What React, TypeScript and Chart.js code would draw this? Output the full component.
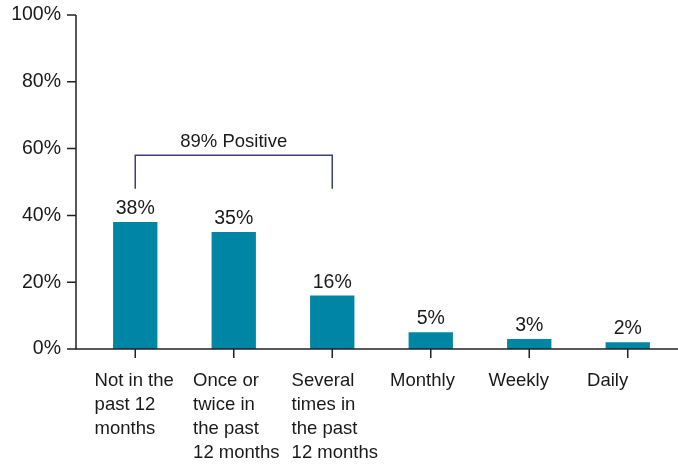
import React, { useEffect, useRef } from "react";
import { Chart, registerables } from "chart.js";

Chart.register(...registerables);

// ---- data ----
const categories: (string | string[])[] = [
  ["Not in the", "past 12", "months"],
  ["Once or", "twice in", "the past", "12 months"],
  ["Several", "times in", "the past", "12 months"],
  "Monthly",
  "Weekly",
  "Daily",
];
const values: number[] = [38, 35, 16, 5, 3, 2];
const valueLabels: string[] = ["38%", "35%", "16%", "5%", "3%", "2%"];
const yTickValues: number[] = [0, 20, 40, 60, 80, 100];
const bracketLabel = "89% Positive";
const bracketFromIndex = 0;
const bracketToIndex = 2;
const bracketTopValue = 58;
const bracketBottomValue = 48;

// ---- styles ----
const FONT_FAMILY = "'Liberation Sans', Arial, Helvetica, sans-serif";
const FONT_SIZE = 18.5;
const NUM_FONT_SIZE = 19.5;
const TEXT_COLOR = "#1a1a1a";
const BAR_COLOR = "#0086A5";
const AXIS_COLOR = "#222222";
const BRACKET_COLOR = "#3C3F7E";

const measureCtx = (() => {
  const c = document.createElement("canvas");
  return c.getContext("2d")!;
})();

function blockWidth(label: string | string[]): number {
  measureCtx.font = `${FONT_SIZE}px ${FONT_FAMILY}`;
  const lines = Array.isArray(label) ? label : [label];
  return Math.max(...lines.map((l) => measureCtx.measureText(l).width));
}

function zeroPadding(scale: any) {
  scale.paddingLeft = 0;
  scale.paddingRight = 0;
  scale.paddingTop = 0;
  scale.paddingBottom = 0;
}

const customPlugin = {
  id: "customAxesAndLabels",
  afterDatasetsDraw(chart: any) {
    const { ctx, chartArea, scales } = chart;
    const x = scales.x;
    const y = scales.y;
    const axisX = chartArea.left - 10;
    const baseY = y.getPixelForValue(0);
    ctx.save();
    // axes
    ctx.strokeStyle = AXIS_COLOR;
    ctx.lineWidth = 1.5;
    ctx.beginPath();
    ctx.moveTo(axisX, y.getPixelForValue(100));
    ctx.lineTo(axisX, baseY);
    ctx.lineTo(chart.width, baseY);
    ctx.stroke();
    // y tick marks
    ctx.beginPath();
    yTickValues.forEach((v) => {
      const py = y.getPixelForValue(v);
      ctx.moveTo(axisX - 9, py);
      ctx.lineTo(axisX, py);
    });
    // x tick marks
    categories.forEach((_, i) => {
      const px = x.getPixelForValue(i);
      ctx.moveTo(px, baseY);
      ctx.lineTo(px, baseY + 9);
    });
    ctx.stroke();

    // value labels
    ctx.fillStyle = TEXT_COLOR;
    ctx.font = `${NUM_FONT_SIZE}px ${FONT_FAMILY}`;
    ctx.textAlign = "center";
    ctx.textBaseline = "alphabetic";
    const meta = chart.getDatasetMeta(0);
    meta.data.forEach((bar: any, i: number) => {
      ctx.fillText(valueLabels[i], bar.x, bar.y - 8);
    });

    // bracket
    const bx1 = x.getPixelForValue(bracketFromIndex);
    const bx2 = x.getPixelForValue(bracketToIndex);
    const byTop = y.getPixelForValue(bracketTopValue);
    const byBot = y.getPixelForValue(bracketBottomValue);
    ctx.strokeStyle = BRACKET_COLOR;
    ctx.lineWidth = 1.5;
    ctx.beginPath();
    ctx.moveTo(bx1, byBot);
    ctx.lineTo(bx1, byTop);
    ctx.lineTo(bx2, byTop);
    ctx.lineTo(bx2, byBot);
    ctx.stroke();
    ctx.fillStyle = TEXT_COLOR;
    ctx.font = `${FONT_SIZE}px ${FONT_FAMILY}`;
    ctx.fillText(bracketLabel, (bx1 + bx2) / 2, byTop - 8);
    ctx.restore();
  },
};

export default function App() {
  const canvasRef = useRef<HTMLCanvasElement | null>(null);

  useEffect(() => {
    if (!canvasRef.current) return;
    const chart = new Chart(canvasRef.current, {
      type: "bar",
      data: {
        labels: categories,
        datasets: [
          {
            data: values,
            backgroundColor: BAR_COLOR,
            borderWidth: 0,
            barPercentage: 0.45,
            categoryPercentage: 1,
          },
        ],
      },
      options: {
        responsive: true,
        maintainAspectRatio: false,
        animation: false,
        layout: { padding: { top: 15, right: 1, left: 0, bottom: 0 } },
        plugins: {
          legend: { display: false },
          tooltip: { enabled: false },
          title: { display: false },
        },
        scales: {
          x: {
            offset: true,
            grid: { display: false, drawTicks: false, tickLength: 0 },
            border: { display: false },
            ticks: {
              color: TEXT_COLOR,
              font: { family: FONT_FAMILY, size: FONT_SIZE, lineHeight: 24 / FONT_SIZE },
              align: "start",
              padding: 20,
              maxRotation: 0,
              autoSkip: false,
              labelOffset: (c: any) => -blockWidth(categories[c.index]) / 2,
            },
            afterFit: (scale: any) => {
              scale.height = 115;
              zeroPadding(scale);
            },
          },
          y: {
            min: 0,
            max: 100,
            grid: { display: false, drawTicks: false, tickLength: 0 },
            border: { display: false },
            afterBuildTicks: (scale: any) => {
              scale.ticks = yTickValues.map((v) => ({ value: v }));
            },
            ticks: {
              color: TEXT_COLOR,
              font: { family: FONT_FAMILY, size: NUM_FONT_SIZE },
              padding: 25,
              callback: (v: any) => `${v}%`,
            },
            afterFit: (scale: any) => {
              scale.width = 86;
              zeroPadding(scale);
            },
          },
        },
      } as any,
      plugins: [customPlugin],
    });
    return () => chart.destroy();
  }, []);

  return (
    <div style={{ position: "absolute", left: 0, top: 0, width: 678, height: 464 }}>
      <canvas ref={canvasRef} />
    </div>
  );
}
